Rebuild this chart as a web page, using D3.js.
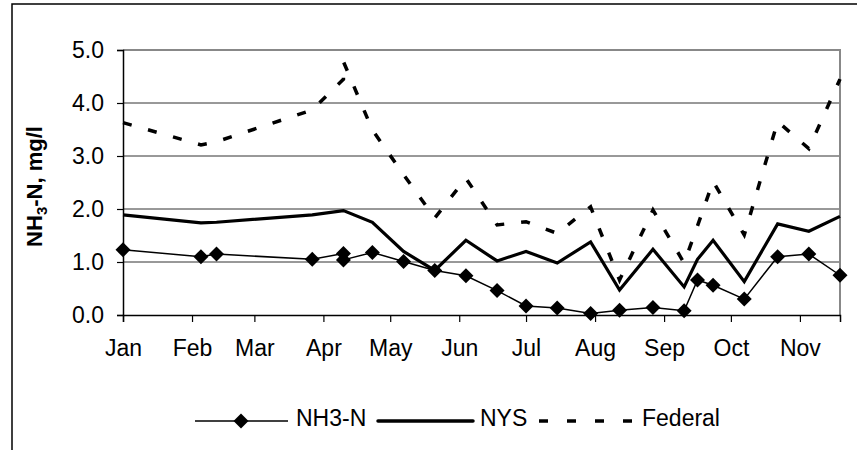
<!DOCTYPE html>
<html>
<head>
<meta charset="utf-8">
<script src="https://cdn.jsdelivr.net/npm/d3@7/dist/d3.min.js"></script>
<style>
  html, body { margin: 0; padding: 0; background: #fff; }
  svg { display: block; font-family: "Liberation Sans", Arial, sans-serif; }
</style>
</head>
<body>
<svg id="chart" width="857" height="450"></svg>
<script>
// Sampling dates and ammonia results with the two standards (mg/l)
const sampleDates = ["2003-01-01","2003-02-05","2003-02-12","2003-03-27","2003-04-10","2003-04-10",
  "2003-04-23","2003-05-07","2003-05-21","2003-06-04","2003-06-18","2003-07-01","2003-07-15",
  "2003-07-30","2003-08-12","2003-08-27","2003-09-10","2003-09-16","2003-09-23","2003-10-07",
  "2003-10-22","2003-11-05","2003-11-19"];
const nh3n    = [1.23,1.10,1.15,1.05,1.16,1.04,1.18,1.01,0.84,0.74,0.46,0.17,0.13,0.03,0.09,0.14,0.08,0.66,0.56,0.30,1.10,1.15,0.75];
const nys     = [1.89,1.74,1.75,1.89,1.97,1.97,1.75,1.20,0.84,1.41,1.02,1.20,0.98,1.38,0.47,1.24,0.53,1.05,1.41,0.63,1.72,1.58,1.86];
const federal = [3.63,3.21,3.27,3.87,4.45,4.78,3.49,2.65,1.83,2.58,1.70,1.76,1.54,2.04,0.66,1.98,0.98,1.68,2.52,1.51,3.65,3.14,4.45];
const yTicks  = [0, 1, 2, 3, 4, 5];
const monthLabels = ["Jan","Feb","Mar","Apr","May","Jun","Jul","Aug","Sep","Oct","Nov"];
const seriesNames = ["NH3-N", "NYS", "Federal"];

const parse = d3.timeParse("%Y-%m-%d");
const dates = sampleDates.map(parse);

const svg = d3.select("#chart");
const plot = { left: 123, right: 840, top: 50, bottom: 315 };
const labelFont = "23px";

const x = d3.scaleTime()
  .domain([parse("2003-01-01"), parse("2003-11-19")])
  .range([plot.left, plot.right]);
const y = d3.scaleLinear().domain([0, 5]).range([plot.bottom, plot.top]);

// outer chart frame
svg.append("path")
  .attr("d", "M12,450 L12,4 L857,4")
  .attr("fill", "none").attr("stroke", "#000").attr("stroke-width", 1.5);

// gridlines
svg.append("g").selectAll("line")
  .data(yTicks.filter(t => t > 0 && t < 5))
  .join("line")
  .attr("x1", plot.left).attr("x2", plot.right)
  .attr("y1", d => y(d)).attr("y2", d => y(d))
  .attr("stroke", "#333").attr("stroke-width", 1);

// plot area border (top and right)
svg.append("path")
  .attr("d", `M${plot.left},${y(5)} L${plot.right},${y(5)} L${plot.right},${y(0)}`)
  .attr("fill", "none").attr("stroke", "#888").attr("stroke-width", 2);

// y axis
const yAxis = svg.append("g")
  .attr("transform", `translate(${plot.left},0)`)
  .call(d3.axisLeft(y).tickValues(yTicks).tickFormat(d3.format(".1f")).tickSize(6).tickPadding(13));
// x axis with month ticks
const monthStarts = d3.timeMonth.range(parse("2003-01-01"), parse("2003-11-20"));
const xAxis = svg.append("g")
  .attr("transform", `translate(0,${plot.bottom})`)
  .call(d3.axisBottom(x).tickValues(monthStarts)
    .tickFormat((d, i) => monthLabels[i]).tickSize(7).tickPadding(18));

[yAxis, xAxis].forEach(g => {
  g.select(".domain").attr("stroke", "#000").attr("stroke-width", 1.5);
  g.selectAll(".tick line").attr("stroke", "#000").attr("stroke-width", 1.2);
  g.selectAll(".tick text").attr("fill", "#000")
    .style("font-size", labelFont).style("font-family", "Liberation Sans, Arial, sans-serif");
});

// y-axis title with subscript
const yTitle = svg.append("text")
  .attr("transform", `translate(42,${(plot.top + plot.bottom) / 2 + 4}) rotate(-90)`)
  .attr("text-anchor", "middle")
  .style("font-size", "22px").style("font-weight", "bold");
yTitle.append("tspan").text("NH");
yTitle.append("tspan").text("3").attr("dy", 5).style("font-size", "15px");
yTitle.append("tspan").text("-N, mg/l").attr("dy", -5);

const line = vals => d3.line()
  .x((d, i) => x(dates[i]))
  .y(d => y(d))(vals);

// Federal standard (dashed)
svg.append("path").attr("d", line(federal))
  .attr("fill", "none").attr("stroke", "#000").attr("stroke-width", 3.5)
  .attr("stroke-dasharray", "9,17");
// NYS standard (heavy)
svg.append("path").attr("d", line(nys))
  .attr("fill", "none").attr("stroke", "#000").attr("stroke-width", 3.2)
  .attr("stroke-linejoin", "miter");
// Measured NH3-N
svg.append("path").attr("d", line(nh3n))
  .attr("fill", "none").attr("stroke", "#000").attr("stroke-width", 1.5);

const diamond = s => `M0,${-s} L${s},0 L0,${s} L${-s},0 Z`;
svg.append("g").selectAll("path")
  .data(nh3n)
  .join("path")
  .attr("transform", (d, i) => `translate(${x(dates[i])},${y(d)})`)
  .attr("d", diamond(7.5))
  .attr("fill", "#000");

// legend
const lg = svg.append("g").attr("transform", "translate(0,421)")
  .style("font-size", labelFont);
lg.append("line").attr("x1", 195).attr("x2", 288).attr("stroke", "#000").attr("stroke-width", 1.5);
lg.append("path").attr("d", diamond(7.5)).attr("transform", "translate(241,0)").attr("fill", "#000");
lg.append("text").attr("x", 296).attr("y", 5).text(seriesNames[0]);
lg.append("line").attr("x1", 378).attr("x2", 473).attr("stroke", "#000").attr("stroke-width", 3.5)
  .attr("stroke-linecap", "round");
lg.append("text").attr("x", 480).attr("y", 5).text(seriesNames[1]);
lg.append("line").attr("x1", 539).attr("x2", 635).attr("stroke", "#000").attr("stroke-width", 3.5)
  .attr("stroke-dasharray", "9,19");
lg.append("text").attr("x", 642).attr("y", 5).text(seriesNames[2]);
</script>
</body>
</html>
